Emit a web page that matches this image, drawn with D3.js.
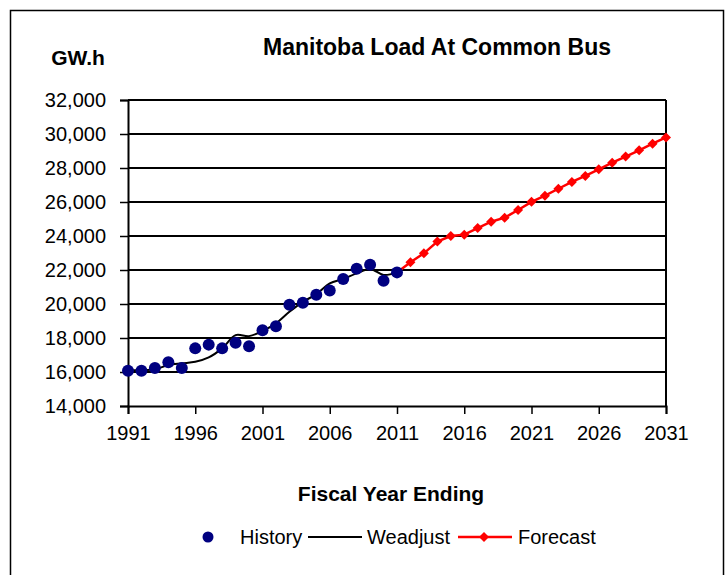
<!DOCTYPE html>
<html lang="en">
<head>
  <meta charset="UTF-8" />
  <title>Manitoba Load At Common Bus</title>
  <style>
    body {
      margin: 0;
      background-color: white;
      font-family: 'Liberation Sans', Arial, sans-serif;
    }
    svg {
      display: block;
    }
    .tick text {
      font-size: 20px;
      fill: black;
    }
  </style>
  <script src="https://d3js.org/d3.v7.min.js"></script>
</head>
<body>
  <div id="chart"></div>

  <script>
    // history (fiscal year ending), GW.h
    const historyYears = [1991, 1992, 1993, 1994, 1995, 1996, 1997, 1998, 1999, 2000, 2001,
      2002, 2003, 2004, 2005, 2006, 2007, 2008, 2009, 2010, 2011];
    const historyValues = [16080, 16080, 16230, 16570, 16230, 17390, 17610, 17390, 17720, 17510, 18450,
      18690, 19960, 20080, 20550, 20790, 21470, 22080, 22310, 21370, 21860];

    // weather adjusted
    const weadjustValues = [16110, 16110, 16160, 16410, 16510, 16600, 16860, 17390, 18170, 18110, 18410,
      18860, 19540, 20130, 20570, 21210, 21470, 21800, 22060, 21710, 21860];

    const forecastYears = [2011, 2012, 2013, 2014, 2015, 2016, 2017, 2018, 2019, 2020, 2021,
      2022, 2023, 2024, 2025, 2026, 2027, 2028, 2029, 2030, 2031];
    const forecastValues = [21860, 22460, 22980, 23670, 24000, 24080, 24470, 24840, 25080, 25530, 26010,
      26370, 26780, 27180, 27530, 27920, 28310, 28670, 29040, 29430, 29800];

    const xTicks = [1991, 1996, 2001, 2006, 2011, 2016, 2021, 2026, 2031];
    const yTicks = [14000, 16000, 18000, 20000, 22000, 24000, 26000, 28000, 30000, 32000];

    const width = 726;
    const height = 575;

    const svg = d3.select("#chart")
      .append("svg")
      .attr("width", width)
      .attr("height", height);

    // outer frame
    svg.append("rect")
      .attr("x", 10.5)
      .attr("y", 10.5)
      .attr("width", 713)
      .attr("height", 600)
      .attr("fill", "none")
      .attr("stroke", "black")
      .attr("stroke-width", 1.5);

    const x = d3.scaleLinear().domain([1991, 2031]).range([128, 666]);
    const y = d3.scaleLinear().domain([14000, 32000]).range([406, 100]);

    // gridlines
    svg.append("g")
      .selectAll("line")
      .data(yTicks.slice(1))
      .enter().append("line")
      .attr("x1", x(1991))
      .attr("x2", x(2031))
      .attr("y1", d => y(d))
      .attr("y2", d => y(d))
      .attr("stroke", "black")
      .attr("stroke-width", 2);

    // right border of plot area
    svg.append("line")
      .attr("x1", x(2031)).attr("x2", x(2031))
      .attr("y1", y(32000)).attr("y2", y(14000))
      .attr("stroke", "black")
      .attr("stroke-width", 2);

    const yAxis = svg.append("g")
      .attr("transform", `translate(${x(1991)},0)`)
      .call(d3.axisLeft(y).tickValues(yTicks).tickSize(8).tickPadding(14)
        .tickFormat(d3.format(",")));

    const xAxis = svg.append("g")
      .attr("transform", `translate(0,${y(14000)})`)
      .call(d3.axisBottom(x).tickValues(xTicks).tickSize(8).tickPadding(12)
        .tickFormat(d3.format("d")));

    [yAxis, xAxis].forEach(ax => {
      ax.select(".domain").attr("stroke", "black").attr("stroke-width", 2);
      ax.selectAll(".tick line").attr("stroke", "black").attr("stroke-width", 1.5);
      ax.selectAll(".tick text").attr("font-family", "'Liberation Sans', Arial, sans-serif");
    });

    // forecast
    const forecastData = forecastYears.map((yr, i) => ({ year: yr, value: forecastValues[i] }));
    const line = d3.line().x(d => x(d.year)).y(d => y(d.value));

    svg.append("path")
      .datum(forecastData)
      .attr("fill", "none")
      .attr("stroke", "#FF0000")
      .attr("stroke-width", 2.5)
      .attr("d", line);

    const diamond = "M0,-5L5,0L0,5L-5,0Z";

    svg.append("g")
      .selectAll("path")
      .data(forecastData.slice(1))
      .enter().append("path")
      .attr("d", diamond)
      .attr("transform", d => `translate(${x(d.year)},${y(d.value)})`)
      .attr("fill", "#FF0000");

    // weadjust smoothed line
    const weadjustData = historyYears.map((yr, i) => ({ year: yr, value: weadjustValues[i] }));
    svg.append("path")
      .datum(weadjustData)
      .attr("fill", "none")
      .attr("stroke", "black")
      .attr("stroke-width", 2)
      .attr("d", line.curve(d3.curveCatmullRom));

    // history dots
    const historyData = historyYears.map((yr, i) => ({ year: yr, value: historyValues[i] }));
    svg.append("g")
      .selectAll("circle")
      .data(historyData)
      .enter().append("circle")
      .attr("cx", d => x(d.year))
      .attr("cy", d => y(d.value))
      .attr("r", 6)
      .attr("fill", "#000080");

    // titles
    svg.append("text")
      .attr("x", 437)
      .attr("y", 55)
      .attr("text-anchor", "middle")
      .attr("font-size", 23)
      .attr("font-weight", "bold")
      .text("Manitoba Load At Common Bus");

    svg.append("text")
      .attr("x", 78)
      .attr("y", 65)
      .attr("text-anchor", "middle")
      .attr("font-size", 21)
      .attr("font-weight", "bold")
      .text("GW.h");

    svg.append("text")
      .attr("x", 391)
      .attr("y", 501)
      .attr("text-anchor", "middle")
      .attr("font-size", 21)
      .attr("font-weight", "bold")
      .text("Fiscal Year Ending");

    // legend
    const legend = svg.append("g").attr("font-size", 20);
    const ly = 537;

    legend.append("circle")
      .attr("cx", 208).attr("cy", ly).attr("r", 5.5)
      .attr("fill", "#000080");
    legend.append("text")
      .attr("x", 240).attr("y", ly + 7)
      .text("History");

    legend.append("line")
      .attr("x1", 308).attr("x2", 362)
      .attr("y1", ly).attr("y2", ly)
      .attr("stroke", "black").attr("stroke-width", 2);
    legend.append("text")
      .attr("x", 367).attr("y", ly + 7)
      .text("Weadjust");

    legend.append("line")
      .attr("x1", 458).attr("x2", 512)
      .attr("y1", ly).attr("y2", ly)
      .attr("stroke", "#FF0000").attr("stroke-width", 2.5);
    legend.append("path")
      .attr("d", diamond)
      .attr("transform", `translate(484,${ly})`)
      .attr("fill", "#FF0000");
    legend.append("text")
      .attr("x", 518).attr("y", ly + 7)
      .text("Forecast");
  </script>
</body>
</html>
